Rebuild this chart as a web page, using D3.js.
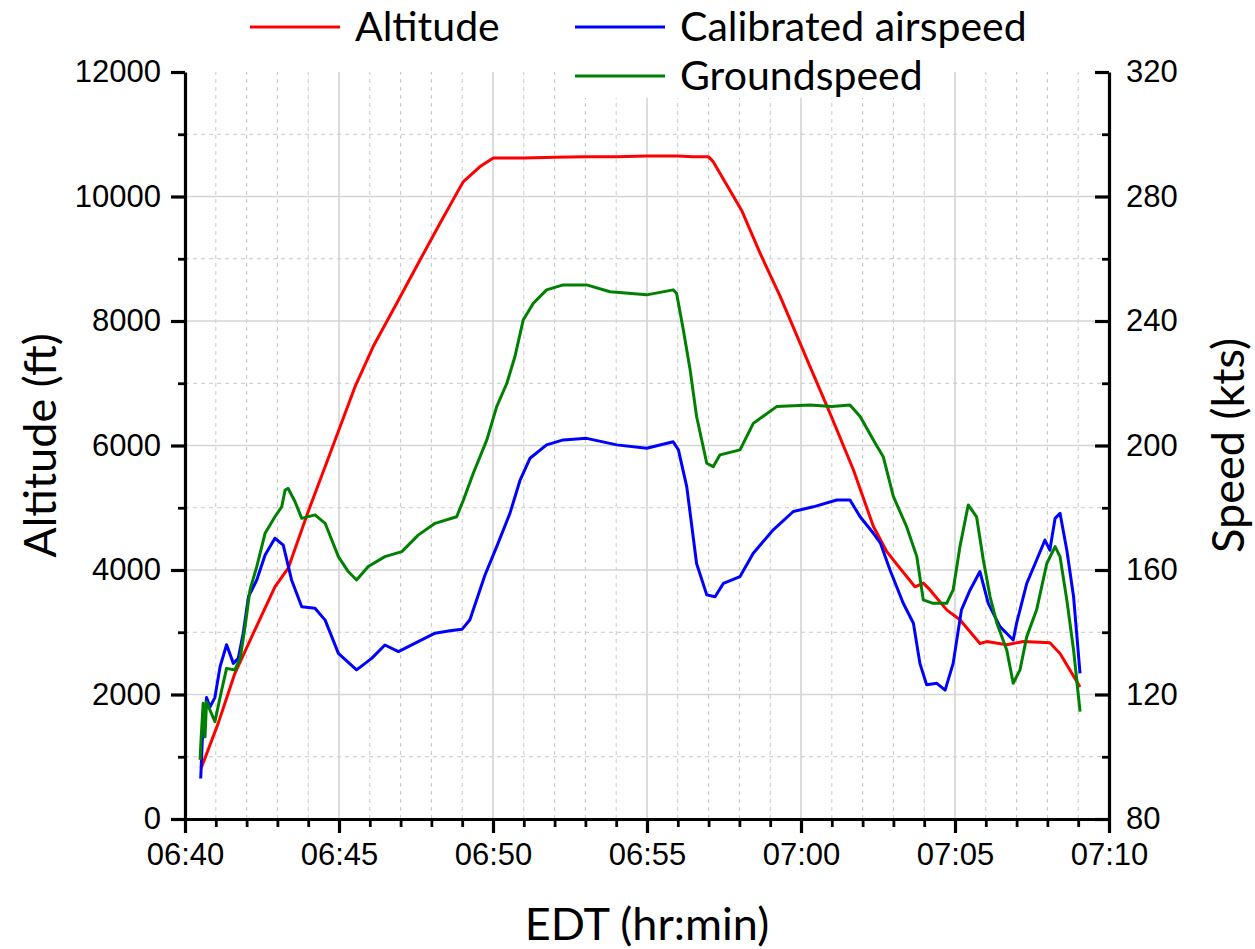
<!DOCTYPE html>
<html>
<head>
<meta charset="utf-8">
<script src="https://cdn.jsdelivr.net/npm/d3@7"></script>
<style>
  body { margin: 0; background: #fff; }
  svg { font-family: Lato, "Open Sans", sans-serif; }
</style>
</head>
<body>
<svg id="chart" width="1255" height="949"></svg>
<script>
// Times are minutes after 06:40 EDT
const altT = [0.52, 1.08, 1.62, 2.27, 2.92, 3.35, 4.0, 4.71, 5.52, 6.11, 6.87, 7.63, 8.28, 8.82, 9.04, 9.58, 10.01, 11.0, 12.0, 13.0, 14.0, 15.0, 16.0, 16.5, 16.99, 17.15, 18.07, 18.67, 19.32, 20.29, 20.94, 21.70, 22.35, 22.78, 23.21, 23.70, 23.97, 24.19, 24.73, 25.16, 25.81, 26.03, 26.68, 27.22, 28.08, 28.41, 29.06];
const altV = [810, 1540, 2340, 3040, 3730, 4030, 4940, 5870, 6945, 7590, 8280, 8980, 9570, 10050, 10240, 10480, 10620, 10620, 10630, 10640, 10640, 10650, 10650, 10640, 10640, 10560, 9780, 9090, 8400, 7270, 6520, 5610, 4700, 4300, 4030, 3730, 3790, 3680, 3360, 3200, 2820, 2850, 2800, 2850, 2830, 2660, 2120];

const casT = [0.51, 0.56, 0.70, 0.81, 0.97, 1.14, 1.35, 1.57, 1.73, 1.89, 2.06, 2.33, 2.60, 2.92, 3.19, 3.46, 3.79, 4.22, 4.55, 4.98, 5.57, 6.06, 6.49, 6.93, 7.57, 8.12, 8.6, 9.0, 9.25, 9.74, 10.12, 10.55, 10.88, 11.2, 11.74, 12.28, 13.04, 14.02, 14.99, 15.85, 16.02, 16.29, 16.61, 16.94, 17.21, 17.48, 18.02, 18.45, 19.10, 19.75, 20.4, 21.16, 21.59, 21.92, 22.35, 22.58, 22.89, 23.32, 23.65, 23.86, 24.08, 24.41, 24.68, 24.94, 25.21, 25.49, 25.81, 26.08, 26.46, 26.73, 26.89, 27.0, 27.33, 27.65, 27.92, 28.08, 28.25, 28.41, 28.63, 28.85, 29.06];
const casV = [93, 105, 119, 116, 119, 129, 136, 130, 131.6, 139.7, 151.4, 156.8, 164.8, 170.2, 168, 156.8, 148.2, 147.7, 143.9, 133.2, 127.9, 131.6, 135.9, 133.8, 137, 139.7, 140.5, 141, 144, 158.4, 167.5, 178.2, 188.9, 195.9, 200.2, 201.8, 202.3, 200.2, 199.1, 201.2, 198.6, 186.8, 162.1, 152, 151.4, 155.7, 157.9, 165.4, 172.9, 178.8, 180.3, 182.5, 182.5, 177.1, 171.8, 168.6, 160, 149.3, 142.9, 130, 123.1, 123.6, 121.4, 130, 147.2, 153.6, 159.5, 149.3, 141.8, 139.1, 137.5, 142.9, 155.7, 163.2, 169.6, 166.4, 176.6, 178.2, 166.4, 151.4, 126.8];

const gsT = [0.49, 0.52, 0.59, 0.65, 0.70, 0.81, 0.97, 1.19, 1.35, 1.62, 1.79, 1.95, 2.11, 2.33, 2.60, 2.92, 3.14, 3.25, 3.35, 3.57, 3.79, 4.22, 4.55, 4.98, 5.30, 5.57, 5.95, 6.49, 7.04, 7.57, 8.12, 8.82, 9.04, 9.36, 9.80, 10.12, 10.45, 10.71, 10.98, 11.31, 11.74, 12.28, 13.04, 13.80, 14.99, 15.85, 15.96, 16.18, 16.40, 16.61, 16.94, 17.15, 17.37, 18.02, 18.45, 19.21, 20.29, 21.0, 21.59, 21.92, 22.35, 22.67, 23.0, 23.43, 23.76, 23.97, 24.29, 24.73, 24.94, 25.16, 25.43, 25.70, 25.92, 26.14, 26.36, 26.68, 26.89, 27.11, 27.33, 27.65, 27.98, 28.25, 28.41, 28.63, 28.85, 29.06];
const gsV = [99, 105.4, 117.2, 106.4, 117.7, 115, 111.3, 121.4, 128.4, 127.9, 131.6, 141.8, 153.6, 161.1, 171.8, 177.1, 180.3, 185.7, 186.2, 182, 176.6, 177.7, 175, 164.3, 159.5, 156.8, 161.1, 164.3, 165.9, 171.2, 175, 177.1, 182.5, 191.1, 201.8, 212.5, 220, 228.5, 240.3, 245.7, 250, 251.6, 251.6, 249.4, 248.4, 250, 248.9, 237.1, 224.3, 209.3, 194.3, 193.2, 197, 198.6, 207.1, 212.5, 213, 212.5, 213, 209.3, 201.8, 196.4, 183.6, 173.9, 164.3, 150.4, 149.3, 149.3, 153.6, 167.5, 180.9, 177.1, 163.2, 151.4, 142.9, 134.3, 123.6, 127.9, 138.6, 147.2, 162.1, 167.5, 164.3, 150.4, 134.3, 114.5];

const legendItems = [
  {label: "Altitude", color: "#ff0000"},
  {label: "Calibrated airspeed", color: "#0000ff"},
  {label: "Groundspeed", color: "#008000"}
];

// Layout
let margin = {left: 185, right: 146, top: 72, bottom: 130};
let width = 1255, height = 949;

let t0 = new Date(2020, 0, 1, 6, 40);
let toDate = m => new Date(t0.getTime() + m * 60000);

let x = d3.scaleTime()
  .domain([t0, toDate(30)])
  .range([margin.left, width - margin.right]);
let yAlt = d3.scaleLinear().domain([0, 12000]).range([height - margin.bottom, margin.top]);
let ySpd = d3.scaleLinear().domain([80, 320]).range([height - margin.bottom, margin.top]);

let svg = d3.select("#chart");
let x0 = margin.left, x1 = width - margin.right;
let yb = height - margin.bottom, yt = margin.top;

// Grid lines
let grid = svg.append("g");
let minutes = d3.range(1, 30);
grid.selectAll(".vgrid")
  .data(minutes)
  .join("line")
    .attr("x1", d => x(toDate(d)))
    .attr("x2", d => x(toDate(d)))
    .attr("y1", yb)
    .attr("y2", yt)
    .attr("stroke", d => d % 5 === 0 ? "#d4d4d4" : "#c8c8c8")
    .attr("stroke-width", d => d % 5 === 0 ? 1.6 : 1)
    .attr("stroke-dasharray", d => d % 5 === 0 ? null : "4,4");
grid.selectAll(".hgrid")
  .data(d3.range(1000, 12000, 1000))
  .join("line")
    .attr("x1", x0)
    .attr("x2", x1)
    .attr("y1", d => yAlt(d))
    .attr("y2", d => yAlt(d))
    .attr("stroke", d => d % 2000 === 0 ? "#d4d4d4" : "#c8c8c8")
    .attr("stroke-width", d => d % 2000 === 0 ? 1.6 : 1)
    .attr("stroke-dasharray", d => d % 2000 === 0 ? null : "4,4");

// Series
function series(ts, vs, yScale, color) {
  let pts = ts.map((t, i) => [x(toDate(t)), yScale(vs[i])]);
  svg.append("path")
    .datum(pts)
    .attr("fill", "none")
    .attr("stroke", color)
    .attr("stroke-width", 3)
    .attr("stroke-linejoin", "round")
    .attr("d", d3.line());
}
series(altT, altV, yAlt, legendItems[0].color);
series(casT, casV, ySpd, legendItems[1].color);
series(gsT, gsV, ySpd, legendItems[2].color);

// Axes
let axisStyle = g => {
  g.selectAll("path").attr("stroke-width", 3.2);
  g.selectAll("line").attr("stroke-width", 3.2);
  g.selectAll("text").attr("font-size", 31).attr("fill", "#000");
};

// bottom: minor ticks then major
svg.append("g")
  .attr("transform", `translate(0,${yb})`)
  .call(d3.axisBottom(x).ticks(d3.timeMinute.every(1)).tickSize(8).tickFormat("").tickSizeOuter(0))
  .call(g => g.selectAll("line").attr("stroke-width", 2.8))
  .call(g => g.select("path").remove());
svg.append("g")
  .attr("transform", `translate(0,${yb})`)
  .call(d3.axisBottom(x).ticks(d3.timeMinute.every(5)).tickSize(14).tickPadding(10)
    .tickFormat(d3.timeFormat("%H:%M")).tickSizeOuter(0))
  .call(axisStyle);

// left
svg.append("g")
  .attr("transform", `translate(${x0},0)`)
  .call(d3.axisLeft(yAlt).tickValues(d3.range(1000, 12000, 2000)).tickSize(7).tickFormat("").tickSizeOuter(0))
  .call(g => g.selectAll("line").attr("stroke-width", 2.8))
  .call(g => g.select("path").remove());
svg.append("g")
  .attr("transform", `translate(${x0},0)`)
  .call(d3.axisLeft(yAlt).tickValues(d3.range(0, 12001, 2000)).tickSize(14).tickPadding(10)
    .tickFormat(d3.format("d")).tickSizeOuter(0))
  .call(axisStyle);

// right (ticks inward)
svg.append("g")
  .attr("transform", `translate(${x1},0)`)
  .call(d3.axisLeft(ySpd).tickValues(d3.range(100, 320, 40)).tickSize(7).tickFormat("").tickSizeOuter(0))
  .call(g => g.selectAll("line").attr("stroke-width", 2.8))
  .call(g => g.select("path").remove());
let right = svg.append("g")
  .attr("transform", `translate(${x1},0)`)
  .call(d3.axisRight(ySpd).tickValues(d3.range(80, 321, 40)).tickSize(0).tickPadding(17)
    .tickFormat(d3.format("d")).tickSizeOuter(0))
  .call(axisStyle);
right.selectAll(".tick line").attr("x2", -14).attr("stroke-width", 3.2);

// Axis titles
svg.append("text")
  .attr("transform", `translate(56,${(yt + yb) / 2}) rotate(-90)`)
  .attr("text-anchor", "middle")
  .attr("font-size", 45)
  .text("Altitude (ft)");
svg.append("text")
  .attr("transform", `translate(1244,${(yt + yb) / 2}) rotate(-90)`)
  .attr("text-anchor", "middle")
  .attr("font-size", 45)
  .text("Speed (kts)");
svg.append("text")
  .attr("x", (x0 + x1) / 2)
  .attr("y", 940)
  .attr("text-anchor", "middle")
  .attr("font-size", 45)
  .text("EDT (hr:min)");

// Legend
let legendPos = [[250, 27], [575, 27], [575, 76]];
svg.append("rect")
  .attr("x", 565).attr("y", yt).attr("width", 370).attr("height", 26)
  .attr("fill", "#fff");
let legend = svg.append("g")
  .selectAll("g")
  .data(legendItems)
  .join("g")
    .attr("transform", (d, i) => `translate(${legendPos[i][0]},${legendPos[i][1]})`);
legend.append("line")
  .attr("x1", 0).attr("x2", 90)
  .attr("stroke", d => d.color)
  .attr("stroke-width", 3);
legend.append("text")
  .attr("x", 105)
  .attr("dy", "0.35em")
  .attr("font-size", 41)
  .text(d => d.label);
</script>
</body>
</html>
